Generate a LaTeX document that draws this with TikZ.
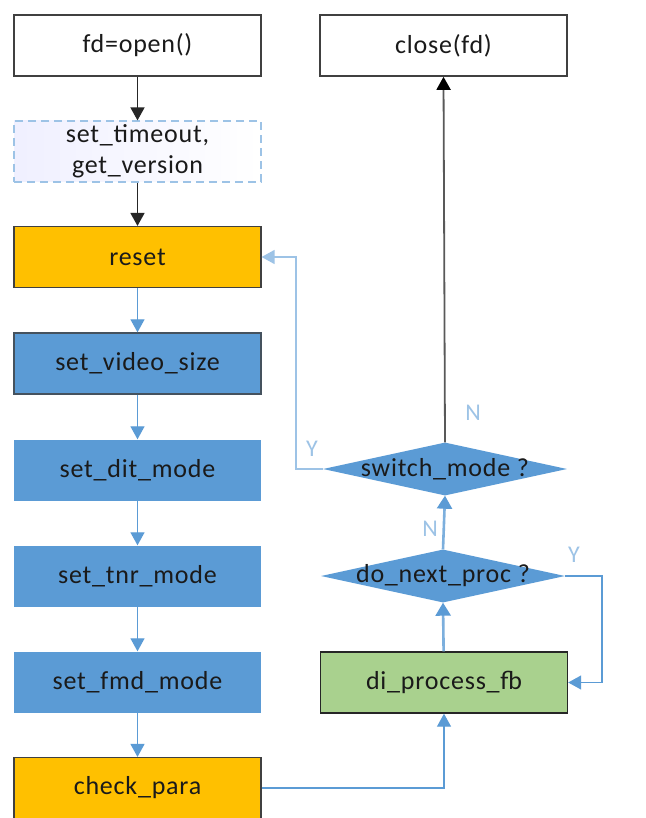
\documentclass[tikz,border=0pt]{standalone}
\usepackage{fontspec}
\setmainfont{Carlito}[LetterSpace=3]
\usetikzlibrary{shapes.geometric,arrows.meta}
\definecolor{orng}{HTML}{FFC000}
\definecolor{blu}{HTML}{5B9BD5}
\definecolor{grn}{HTML}{A9D18E}
\definecolor{lbl}{HTML}{9DC3E6}
\definecolor{txt}{HTML}{1A1A1A}
\definecolor{brd}{HTML}{404040}
\tikzset{
  box/.style={rectangle, minimum width=247, minimum height=61, inner sep=0, text=txt, align=center},
  whitebox/.style={box, draw=brd, line width=1.6pt, fill=white},
  dashbox/.style={box, draw=lbl, dashed, dash pattern=on 8pt off 5pt, line width=1.2pt, left color=blue!6, right color=white},
  orbox/.style={box, draw=brd, line width=1.2pt, fill=orng},
  bluebox/.style={box, fill=blu},
  blubord/.style={box, draw=brd!80!blu, line width=1.4pt, fill=blu},
  grnbox/.style={box, draw=black!85, line width=1.4pt, fill=grn},
  decide/.style={diamond, aspect=4.6, minimum width=244, minimum height=53, inner sep=0, fill=blu},
  dtext/.style={inner sep=0, text=txt},
  blk/.style={draw=black!85, line width=1.6pt, -{Triangle[width=14pt,length=13pt]}},
  gry/.style={draw=black!65, line width=1.8pt, -{Triangle[width=14pt,length=13pt,fill=black,color=black]}},
  bl/.style={draw=blu, line width=1.3pt, -{Triangle[width=14pt,length=13pt]}},
  blthick/.style={draw=blu!80, line width=2.6pt, -{Triangle[width=15pt,length=13pt,color=blu]}},
  yn/.style={text=lbl, font=\fontsize{24}{28}\selectfont, inner sep=0},
}
\begin{document}
\begin{tikzpicture}[x=1pt,y=-1pt, font=\fontsize{26}{34}\selectfont]
\useasboundingbox (0,0) rectangle (645,818);
\fill[white] (0,0) rectangle (645,818);
% left column
\node[whitebox] (open) at (137.5,45.5) {fd=open()};
\node[dashbox] (timeout) at (137.5,151.5) {set\_timeout,\\[-3pt]get\_version};
\node[orbox] (reset) at (137.5,257) {reset};
\node[blubord] (video) at (137.5,363.5) {set\_video\_size};
\node[bluebox] (dit) at (137.5,470) {set\_dit\_mode};
\node[bluebox] (tnr) at (137.5,576) {set\_tnr\_mode};
\node[bluebox] (fmd) at (137.5,682) {set\_fmd\_mode};
\node[orbox] (check) at (137.5,788) {check\_para};
% right column
\node[whitebox] (close) at (443.5,45.5) {close(fd)};
\node[decide] (switch) at (445,469) {};
\node[dtext] (switchtxt) at (switch.center) {switch\_mode ?};
\node[decide] (next) at (443,576) {};
\node[dtext] (nexttxt) at (next.center) {do\_next\_proc ?};
\node[grnbox] (proc) at (444,682.5) {di\_process\_fb};
% coordinates
\coordinate (sy) at (296,469);
\coordinate (ny) at (602,576);
% connectors
\draw[blk] (open) -- (timeout);
\draw[blk] (timeout) -- (reset);
\draw[bl] (reset) -- (video);
\draw[bl] (video) -- (dit);
\draw[bl] (dit) -- (tnr);
\draw[bl] (tnr) -- (fmd);
\draw[bl] (fmd) -- (check);
\draw[bl] (check.east) -| (proc.south);
\draw[blthick] (proc) -- (next.south);
\draw[blthick] (next.north) -- (switch.south);
\draw[bl] (next.east) -- (ny) |- (proc.east);
\draw[gry] (switch.north) -- (close.south);
\draw[bl, draw=lbl] (switch.west) -- (sy) |- (reset.east);
% labels
\node[yn] (ylbl1) at (312,449) {Y};
\node[yn] (nlbl1) at (473,413) {N};
\node[yn] (nlbl2) at (430,529) {N};
\node[yn] (ylbl2) at (574,555) {Y};
\end{tikzpicture}
\end{document}
